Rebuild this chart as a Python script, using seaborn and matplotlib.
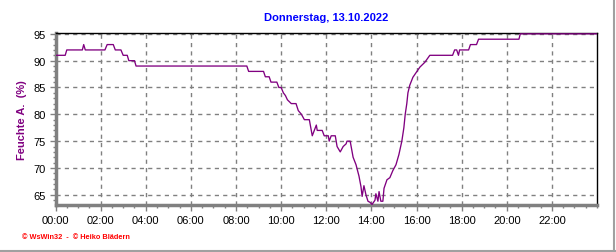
import matplotlib
matplotlib.use("Agg")
import matplotlib.pyplot as plt
import matplotlib.lines as mlines
from matplotlib.ticker import MultipleLocator
import seaborn as sns
import pandas as pd

title = "Donnerstag, 13.10.2022"
ylabel = "Feuchte A.  (%)"
footer = "© WsWin32  -  © Heiko Blädern"

hours = [0.0, 0.43, 0.5, 1.19, 1.25, 1.32, 2.19, 2.29, 2.56, 2.65, 2.9, 3.0, 3.18, 3.25, 3.5, 3.57,
         8.48, 8.56, 9.22, 9.3, 9.47, 9.55, 9.81, 9.9, 10.0, 10.1, 10.19, 10.28, 10.45, 10.66,
         10.76, 10.9, 11.03, 11.25, 11.38, 11.56, 11.6, 11.82, 11.91, 12.09, 12.13, 12.22, 12.4,
         12.48, 12.62, 12.75, 12.88, 12.92, 13.06, 13.19, 13.32, 13.45, 13.54, 13.59, 13.67, 13.76,
         13.85, 13.94, 14.03, 14.16, 14.2, 14.29, 14.34, 14.42, 14.51, 14.56, 14.69, 14.82, 14.95,
         15.09, 15.22, 15.35, 15.44, 15.5, 15.57, 15.62, 15.7, 15.84, 15.97, 16.15, 16.37, 16.59,
         17.6, 17.69, 17.78, 17.86, 17.91, 18.31, 18.39, 18.66, 18.75, 20.54, 20.6, 24.0]
humidity = [91, 91, 92, 92, 93, 92, 92, 93, 93, 92, 92, 91, 91, 90, 90, 89,
            89, 88, 88, 87, 87, 86, 86, 85, 85, 84, 83.5, 82.7, 82, 82,
            80.7, 80, 79, 79, 76, 78, 77, 77, 76, 76, 75, 76, 76,
            74, 73, 74, 74.5, 75, 75, 72, 70.6, 68.5, 66.5, 64.7, 66.7, 65,
            63.8, 63.6, 63.2, 64, 65.2, 63.8, 65.6, 63.8, 63.8, 66.2, 67.8, 68.2, 69.5,
            70.6, 72.5, 75, 77.5, 80, 82, 84, 85.4, 86.9, 87.7, 88.8, 89.7, 91,
            91, 92, 92, 91, 92, 92, 93, 93, 94, 94, 95, 95]

xtick_pos = list(range(0, 24, 2))
xtick_labels = ["%02d:00" % h for h in xtick_pos]
ytick_pos = [65, 70, 75, 80, 85, 90, 95]

sns.set_theme(style="white")
plt.rcParams['font.family'] = ['Liberation Sans', 'DejaVu Sans']

df = pd.DataFrame({"h": hours, "v": humidity})

fig = plt.figure(figsize=(6.16, 2.53), dpi=100)
fig.patch.set_facecolor("white")
ax = fig.add_axes([55.5/616, 1-206/253, (597-55.5)/616, (206-33.5)/253])
sns.lineplot(data=df, x="h", y="v", ax=ax, color="#800080", linewidth=0.95, zorder=3)

ax.set_xlim(0, 24)
ax.set_ylim(63.1, 95.25)
ax.set_xticks(xtick_pos)
ax.set_xticklabels(xtick_labels)
ax.set_yticks(ytick_pos)
ax.set_yticklabels([str(v) for v in ytick_pos])
ax.xaxis.set_minor_locator(MultipleLocator(0.5))
ax.yaxis.set_minor_locator(MultipleLocator(1))
ax.tick_params(axis="both", which="major", labelsize=8, colors="#808080", labelcolor="black",
               length=4, width=1, direction="out", pad=3)
ax.tick_params(axis="both", which="minor", colors="#808080", length=2.5, width=1, direction="out")
ax.tick_params(axis="x", which="both", bottom=True)
ax.tick_params(axis="y", which="both", left=True)
ax.set_xlabel("")
ax.set_ylabel(ylabel, color="#800080", fontsize=8, fontweight="bold")
ax.yaxis.set_label_coords(-(55.5-27)/541.5, 0.5)

ax.grid(True, which="major", color="#808080", linestyle=(0, (3, 3)), linewidth=1)
for s in ["top", "right"]:
    ax.spines[s].set_color("black")
    ax.spines[s].set_linewidth(1)
for s in ["left", "bottom"]:
    ax.spines[s].set_color("#808080")
    ax.spines[s].set_linewidth(2.5)
ax.set_axisbelow(True)

fig.text((55.5+597)/2/616, 1-18/253, title, ha="center", va="center", color="#0000FF",
         fontsize=8, fontweight="bold")
fig.text(22/616, 1-238/253, footer, ha="left", va="center", color="#FF0000",
         fontsize=5.3, fontweight="bold")

fig.add_artist(mlines.Line2D([614/616, 614/616], [0, 1], transform=fig.transFigure,
                             color="#a0a0a0", linewidth=1.5))
fig.add_artist(mlines.Line2D([0, 1], [1.5/253, 1.5/253], transform=fig.transFigure,
                             color="#a0a0a0", linewidth=1.5))

fig.savefig("out.png", dpi=100, facecolor="white")
